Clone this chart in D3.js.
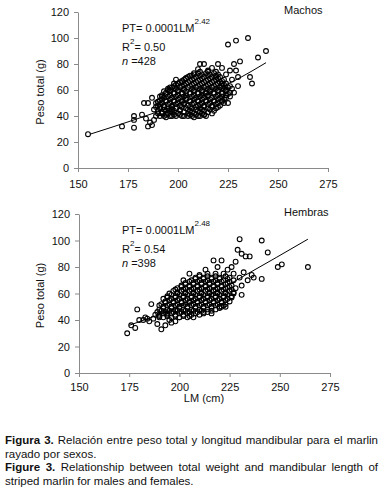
<!DOCTYPE html>
<html>
<head>
<meta charset="utf-8">
<script src="https://cdn.jsdelivr.net/npm/d3@7"></script>
<style>
  body { margin: 0; background: #fff; font-family: "Liberation Sans", Arial, sans-serif; }
  #chart { position: relative; width: 383px; height: 501px; }
  svg { position: absolute; left: 0; top: 0; }
  .caption { position: absolute; left: 5px; width: 373px; font-size: 11.5px; color: #111; }
  .caption div { height: 13.5px; line-height: 13.5px; white-space: nowrap; }
  .caption .j { text-align: justify; text-align-last: justify; }
</style>
</head>
<body>
<div id="chart"></div>
<script>
// axis ticks (shared by both panels)
const xTicks = [150, 175, 200, 225, 250, 275];
const yTicks = [0, 20, 40, 60, 80, 100, 120];

// Machos: scattered points [LM, PT]
const machosSparse = [
  [155,26],[172,32],[178,31],[178,37],[178,40],[182,41],[183,50],[185,50],[187,54],
  [185,32],[186,35],[188,37],[189,40],[190,42],[188,45],[191,47],[190,51],[192,55],
  [193,59],[195,60],[196,62],[198,65],[199,68],[202,66],[204,69],[206,71],[208,73],
  [210,76],[211,80],[213,80],[215,75],[217,77],[220,80],[222,77],[225,95],[229,98],
  [235,100],[240,85],[244,90],[236,70],[237,65],[231,82],[228,80],[229,75],[226,75],
  [225,50],[213,41],[208,39],[219,70],[224,72],[227,68],[230,63],[228,58],[226,55],
  [224,60],[222,65],[184,38],[187,33],[194,39],[196,44],[230,70]
];
// Machos: dense core, one row per weight [PT, [LM...]]
const machosCore = [
  [40, [191,193,196,197,199,202,203,205,207,210,211,214]],
  [41, [194,198,201,206,209,213]],
  [42, [192,195,200,205,208,212,217]],
  [43, [192,197,203,207,211,215]],
  [44, [190,194,198,201,206,210,213,218]],
  [45, [193,197,201,205,209,212,216]],
  [46, [191,195,199,204,207,211,215,219]],
  [47, [189,193,197,202,206,209,213,217,220]],
  [48, [190,193,197,201,205,210,213,217,221]],
  [49, [191,195,199,203,207,211,215,219]],
  [50, [189,192,196,200,203,208,212,216,220,223]],
  [51, [190,194,198,202,206,210,214,218,222]],
  [52, [191,194,198,202,206,210,214,218,222]],
  [53, [192,196,200,204,208,212,216,220,223]],
  [54, [193,197,201,204,209,213,217,221,224]],
  [55, [191,195,199,203,207,211,215,219,222]],
  [56, [192,196,200,204,208,212,215,220,224]],
  [57, [194,198,202,206,210,214,218,222,225]],
  [58, [194,198,202,206,210,214,218,222,226]],
  [59, [196,200,204,208,212,216,220,224]],
  [60, [196,200,203,208,212,216,220,224]],
  [61, [195,199,203,207,211,215,219,223,227]],
  [62, [197,201,205,209,213,217,221,225]],
  [63, [198,202,206,210,214,218,222,226]],
  [64, [199,203,207,211,215,219,223]],
  [65, [200,204,208,212,216,220,224]],
  [66, [201,205,209,213,217,221]],
  [67, [202,206,210,214,218,222]],
  [68, [203,207,211,215,219,223]],
  [69, [204,208,212,216,220]],
  [70, [205,209,213,217,221]],
  [71, [207,211,215,219]],
  [72, [208,212,216,220]],
  [73, [210,214,218]],
  [74, [211,215,219]]
];
const machosFit = [[156,26],[178,37],[200,49],[228,67],[244,81]];

// Hembras: scattered points [LM, PT]
const hembrasSparse = [
  [174,30],[176,36],[178,34],[179,48],[180,40],[182,40],[185,39],[186,52],[188,44],
  [189,37],[191,33],[193,36],[198,39],[202,70],[205,75],[230,101],[241,100],[244,91],
  [251,82],[249,80],[264,80],[241,71],[237,72],[236,74],[229,93],[231,90],[233,88],
  [235,88],[217,85],[221,85],[231,59],[231,66],[223,50],[221,50],[212,46],[216,45],
  [183,42],[187,41],[190,42],[195,40],[194,45],[196,38],[200,42],[226,80],[228,84],
  [224,78],[232,76],[234,70],[230,72],[219,80],[213,78],[210,74],[208,72],[184,41]
];
// Hembras: dense core [PT, [LM...]]
const hembrasCore = [
  [42, [192,196,200,204,207]],
  [43, [190,194,198,202,205]],
  [44, [190,194,198,202,206,210]],
  [45, [192,196,200,204,208,212]],
  [46, [189,193,197,201,205,209,214]],
  [47, [191,195,199,203,207,211,216]],
  [48, [190,194,198,202,206,210,214,218]],
  [49, [192,196,200,204,208,212,216,220]],
  [50, [192,196,200,204,208,212,216,220]],
  [51, [190,194,198,202,206,210,214,218,222]],
  [52, [191,195,199,203,207,211,215,219,223]],
  [53, [193,197,201,205,209,213,217,221]],
  [54, [193,197,201,205,209,213,217,221,225]],
  [55, [195,199,203,207,211,215,219,223]],
  [56, [192,196,200,204,208,212,216,220,224]],
  [57, [194,198,202,206,210,214,218,222,226]],
  [58, [194,198,202,206,210,214,218,222,226]],
  [59, [196,200,204,208,212,216,220,224]],
  [60, [195,199,203,207,211,215,219,223,227]],
  [61, [199,203,207,211,215,219,223,227]],
  [62, [197,201,205,209,213,217,221,225]],
  [63, [198,202,206,210,214,218,222,226]],
  [64, [199,203,207,211,215,219,223,228]],
  [65, [201,205,209,213,217,221,225]],
  [66, [201,205,209,213,217,221,226]],
  [67, [203,207,211,215,219,223]],
  [68, [203,207,211,215,219,224]],
  [69, [205,209,213,217,221,225]],
  [70, [206,210,214,218,222,227]],
  [71, [208,212,216,220,224]],
  [72, [212,216,220,225]],
  [73, [210,214,218,223]],
  [75, [214,218,222,227]]
];
const hembrasFit = [[175,36],[200,50],[220,63],[233,74],[264,101]];

const panels = [
  { label: "Machos", sparse: machosSparse, core: machosCore, fit: machosFit,
    eq: "2.42", r2: "0.50", n: "428",
    xr: [78, 328], yr: [168, 12], xPad: 8, showX: false },
  { label: "Hembras", sparse: hembrasSparse, core: hembrasCore, fit: hembrasFit,
    eq: "2.48", r2: "0.54", n: "398",
    xr: [79, 330], yr: [373, 214], xPad: 6.5, showX: true }
];

const svg = d3.select("#chart").append("svg")
  .attr("width", 383)
  .attr("height", 430)
  .style("font-family", "'Liberation Sans', Arial, sans-serif");

panels.forEach(p => {
  const x = d3.scaleLinear().domain([150, 275]).range(p.xr);
  const y = d3.scaleLinear().domain([0, 120]).range(p.yr);
  const g = svg.append("g");

  const pts = p.sparse.concat(p.core.flatMap(([pt, lms]) => lms.map(lm => [lm, pt])));

  // x axis
  const gx = g.append("g")
    .attr("transform", `translate(0,${p.yr[0]})`)
    .call(d3.axisBottom(x).tickValues(xTicks).tickSize(4).tickSizeOuter(0).tickPadding(p.xPad));
  // y axis
  const gy = g.append("g")
    .attr("transform", `translate(${p.xr[0]},0)`)
    .call(d3.axisLeft(y).tickValues(yTicks).tickSize(4).tickSizeOuter(0).tickPadding(5));
  [gx, gy].forEach(a => {
    a.selectAll("path, line").attr("stroke", "#8a8a8a");
    a.selectAll("text").attr("fill", "#111").style("font-size", "11px");
  });

  g.append("g").selectAll("circle")
    .data(pts)
    .join("circle")
    .attr("cx", d => x(d[0]))
    .attr("cy", d => y(d[1]))
    .attr("r", 2.4)
    .attr("fill", "none")
    .attr("stroke", "#000")
    .attr("stroke-width", 1.1);

  g.append("path")
    .datum(p.fit)
    .attr("fill", "none")
    .attr("stroke", "#000")
    .attr("stroke-width", 1)
    .attr("d", d3.line().x(d => x(d[0])).y(d => y(d[1])).curve(d3.curveMonotoneX));

  // y label
  const cy = (p.yr[0] + p.yr[1]) / 2;
  g.append("text")
    .attr("transform", `translate(44,${cy + 2}) rotate(-90)`)
    .attr("text-anchor", "middle")
    .style("font-size", "11px")
    .attr("fill", "#111")
    .text("Peso total (g)");

  // series label
  g.append("text")
    .attr("x", 284).attr("y", p.yr[1] + 2)
    .style("font-size", "11px").attr("fill", "#111")
    .text(p.label);

  // equation block
  const tx = 122, ty = p.yr[1] + 20;
  const t1 = g.append("text").attr("x", tx).attr("y", ty).style("font-size", "11px").attr("fill", "#111");
  t1.append("tspan").text("PT= 0.0001LM");
  t1.append("tspan").attr("dy", -8).style("font-size", "8px").text(p.eq);
  const t2 = g.append("text").attr("x", tx).attr("y", ty + 19).style("font-size", "11px").attr("fill", "#111");
  t2.append("tspan").text("R");
  t2.append("tspan").attr("dy", -7).style("font-size", "8px").text("2");
  t2.append("tspan").attr("dy", 7).text("= " + p.r2);
  const t3 = g.append("text").attr("x", tx).attr("y", ty + 33).style("font-size", "11px").attr("fill", "#111");
  t3.append("tspan").style("font-style", "italic").text("n");
  t3.append("tspan").text(" =" + p.n);

  if (p.showX) {
    g.append("text")
      .attr("x", 204).attr("y", p.yr[0] + 29)
      .attr("text-anchor", "middle")
      .style("font-size", "11px").attr("fill", "#111")
      .text("LM (cm)");
  }
});

// caption
const cap = d3.select("#chart").append("div").attr("class", "caption").style("top", "434px");
cap.append("div").attr("class", "j").html("<b>Figura 3.</b> Relación entre peso total y longitud mandibular para el marlin");
cap.append("div").text("rayado por sexos.");
cap.append("div").attr("class", "j").html("<b>Figure 3.</b> Relationship between total weight and mandibular length of");
cap.append("div").text("striped marlin for males and females.");
</script>
</body>
</html>
